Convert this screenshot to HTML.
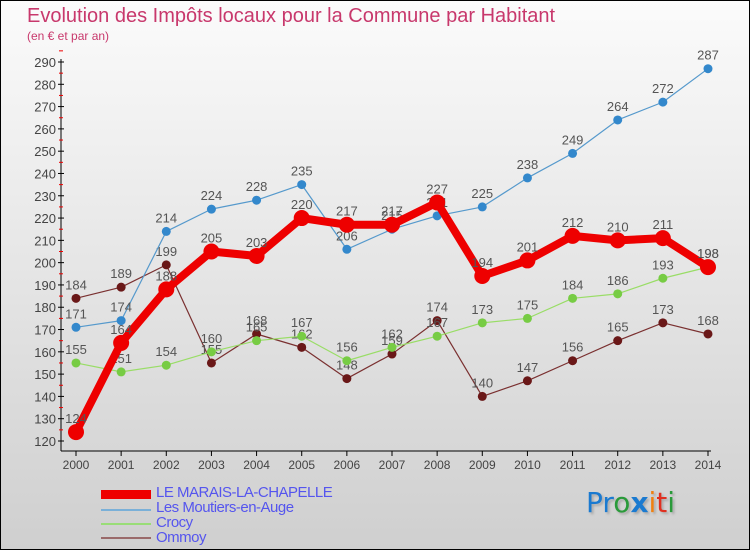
<!DOCTYPE html>
<html><head><meta charset="utf-8"><style>
body{margin:0;}
#wrap{position:relative;width:748px;height:548px;border:1px solid #000;background:linear-gradient(#fbfbfb,#cfcfcf);font-family:"Liberation Sans",sans-serif;overflow:hidden;}
#title{position:absolute;left:26px;top:4px;font-size:20px;color:#c8386c;}
#sub{position:absolute;left:26px;top:28px;font-size:12px;color:#c8386c;}
.leg{position:absolute;left:155px;font-size:15px;color:#5555ee;letter-spacing:-0.5px;}
.sw{position:absolute;left:100px;width:50px;}
#logo{position:absolute;left:585px;top:485px;font-size:28px;font-family:"DejaVu Sans",sans-serif;text-shadow:2px 2px 2px #aaa;}
</style></head><body>
<div id="wrap">
<div id="title">Evolution des Impôts locaux pour la Commune par Habitant</div>
<div id="sub">(en € et par an)</div>
<svg id="chart" width="748" height="548" style="position:absolute;left:0;top:0"></svg>
<div class="sw" style="top:489px;height:9px;background:#e00"></div>
<div class="leg" style="top:483px">LE MARAIS-LA-CHAPELLE</div>
<div class="sw" style="top:508px;height:2px;background:#7ab0d8"></div>
<div class="leg" style="top:498px">Les Moutiers-en-Auge</div>
<div class="sw" style="top:522px;height:2px;background:#99dd77"></div>
<div class="leg" style="top:513px">Crocy</div>
<div class="sw" style="top:536px;height:2px;background:#9a6a6a"></div>
<div class="leg" style="top:528px">Ommoy</div>
<div id="logo"><span style="color:#1a7ad0">Pr</span><span style="color:#2a9a3a">o</span><span style="color:#1a7ad0;font-weight:bold">x</span><span style="color:#f08010">i</span><span style="color:#e03020">t</span><span style="color:#2a9a3a">i</span></div>
</div>
<script>
const years=[2000,2001,2002,2003,2004,2005,2006,2007,2008,2009,2010,2011,2012,2013,2014];
const marais=[124,164,188,205,203,220,217,217,227,194,201,212,210,211,198];
const moutiers=[171,174,214,224,228,235,206,215,221,225,238,249,264,272,287];
const crocy=[155,151,154,160,165,167,156,162,167,173,175,184,186,193,198];
const ommoy=[184,189,199,155,168,162,148,159,174,140,147,156,165,173,168];
const yTicks=[120,130,140,150,160,170,180,190,200,210,220,230,240,250,260,270,280,290];
const svg=document.getElementById('chart');const NS='http://www.w3.org/2000/svg';
const X=i=>75+i*(632/14);const Y=v=>440-(v-120)*(379/170);
function mk(t,a,p){const e=document.createElementNS(NS,t);for(const k in a)e.setAttribute(k,a[k]);(p||svg).appendChild(e);return e;}
let ax=mk('line',{x1:60,y1:58,x2:60,y2:450,stroke:'#000'});


let xa=mk('line',{x1:60,y1:450,x2:710,y2:450,stroke:'#000'});


yTicks.forEach(v=>{mk('line',{x1:57,x2:63,y1:Y(v),y2:Y(v),stroke:'#000'});
mk('line',{x1:58,x2:62,y1:Y(v+5),y2:Y(v+5),stroke:'#e00'});
const t=mk('text',{x:55,y:Y(v)+5,'text-anchor':'end','font-size':13,fill:'#444','font-family':'Liberation Sans'});t.textContent=v;

});
years.forEach((y,i)=>{mk('line',{x1:X(i),x2:X(i),y1:450,y2:455,stroke:'#000'});
const t=mk('text',{x:X(i),y:468,'text-anchor':'middle','font-size':12,fill:'#444','font-family':'Liberation Sans'});t.textContent=y;

});
function series(d,col,dot,w,r,name){const g=mk('g',{});


mk('polyline',{points:d.map((v,i)=>X(i)+','+Y(v)).join(' '),fill:'none',stroke:col,'stroke-width':w,'stroke-linejoin':'round'},g);
d.forEach((v,i)=>{const c=mk('circle',{cx:X(i),cy:Y(v),r:r,fill:dot},g);


const t=mk('text',{x:X(i),y:Y(v)-9,'text-anchor':'middle','font-size':13,fill:'#555','font-family':'Liberation Sans'},g);t.textContent=v;});}
series(ommoy,'#7a3030','#6a1818',1.2,4.5,'series-ommoy');
series(crocy,'#99dd66','#77cc44',1.2,4.5,'series-crocy');
series(moutiers,'#5599cc','#3388cc',1.2,4.5,'series-moutiers');
series(marais,'#ee0000','#ee0000',8,8,'series-marais');
</script>
</body></html>
